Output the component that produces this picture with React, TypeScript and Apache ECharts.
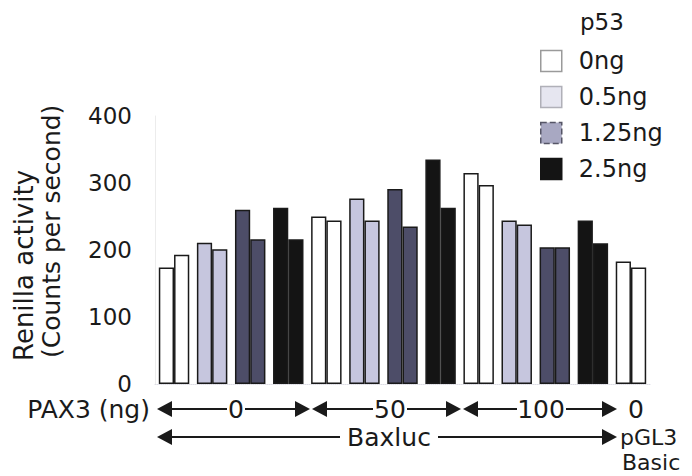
import React, { useEffect, useRef } from "react";
import * as echarts from "echarts";

// 13 bar pairs: PAX3 dose (0, 50, 100 ng) x p53 dose, then pGL3 Basic
const categories = [
  "Baxluc PAX3 0 / p53 0ng",
  "Baxluc PAX3 0 / p53 0.5ng",
  "Baxluc PAX3 0 / p53 1.25ng",
  "Baxluc PAX3 0 / p53 2.5ng",
  "Baxluc PAX3 50 / p53 0ng",
  "Baxluc PAX3 50 / p53 0.5ng",
  "Baxluc PAX3 50 / p53 1.25ng",
  "Baxluc PAX3 50 / p53 2.5ng",
  "Baxluc PAX3 100 / p53 0ng",
  "Baxluc PAX3 100 / p53 0.5ng",
  "Baxluc PAX3 100 / p53 1.25ng",
  "Baxluc PAX3 100 / p53 2.5ng",
  "pGL3 Basic PAX3 0 / p53 0ng",
];
const p53Doses = ["0ng", "0.5ng", "1.25ng", "2.5ng"];
const categoryDose = [0, 1, 2, 3, 0, 1, 2, 3, 0, 1, 2, 3, 0];
const replicate1 = [174, 211, 260, 263, 250, 277, 291, 335, 315, 244, 204, 244, 183];
const replicate2 = [193, 201, 216, 216, 244, 244, 235, 263, 297, 238, 204, 210, 174];
const yTicks = [0, 100, 200, 300, 400];

const doseFill = ["#ffffff", "#c6c6de", "#4d4d68", "#141414"];
const legendFill = ["#ffffff", "#e6e6f0", "#a8a8c2", "#141414"];
const legendBorder = ["#9a9a9a", "#b0b0b8", "#555566", "#141414"];

const FONT = "DejaVu Sans";
const INK = "#1a1a1a";

function txt(text: string, x: number, y: number, align: string, size = 25, rotation = 0) {
  return {
    type: "text",
    x,
    y,
    rotation,
    style: {
      text,
      fill: INK,
      font: `${size}px "${FONT}"`,
      textAlign: align,
      textVerticalAlign: "middle",
    },
  };
}
function seg(x1: number, x2: number, y: number) {
  return {
    type: "line",
    shape: { x1, y1: y, x2, y2: y },
    style: { stroke: INK, lineWidth: 2 },
  };
}
function head(tip: number, dir: number, y: number) {
  // dir = -1 points left, +1 points right
  const base = tip - dir * 15;
  return {
    type: "polygon",
    shape: { points: [[tip, y], [base, y - 8], [base, y + 8]] },
    style: { fill: INK },
  };
}

export default function App() {
  const ref = useRef<HTMLDivElement>(null);
  useEffect(() => {
    if (!ref.current) return;
    document.body.style.margin = "0";
    const chart = echarts.init(ref.current, undefined, { renderer: "svg" });

    const series: any[] = [];
    p53Doses.forEach((dose, d) => {
      [replicate1, replicate2].forEach((rep, r) => {
        series.push({
          type: "bar",
          name: dose,
          stack: r === 0 ? "rep1" : "rep2",
          barGap: "0%",
          barCategoryGap: "20%",
          data: categories.map((_, i) => (categoryDose[i] === d ? rep[i] : "-")),
          itemStyle: { color: doseFill[d], borderColor: INK, borderWidth: 1.5 },
          emphasis: { disabled: true },
        });
      });
    });

    const r1 = 409;
    const r2 = 437;
    const graphics: any[] = [
      txt("p53", 580, 22, "left", 23),
      txt("Renilla activity", 24, 361, "left", 26, Math.PI / 2),
      txt("(Counts per second)", 51, 358, "left", 25, Math.PI / 2),
      txt("PAX3 (ng)", 150, r1, "right"),
      head(157, -1, r1), seg(170, 227, r1), txt("0", 236, r1, "center"), seg(245, 298, r1), head(310, 1, r1),
      head(312, -1, r1), seg(325, 373, r1), txt("50", 390, r1, "center"), seg(407, 449, r1), head(461, 1, r1),
      head(463, -1, r1), seg(476, 517, r1), txt("100", 541, r1, "center"), seg(566, 604, r1), head(617, 1, r1),
      txt("0", 636, r1, "center"),
      head(157, -1, r2), seg(170, 340, r2), txt("Baxluc", 389, r2, "center"), seg(438, 604, r2), head(617, 1, r2),
      txt("pGL3", 620, r2, "left", 22),
      txt("Basic", 622, 462, "left", 22),
    ];

    chart.setOption({
      animation: false,
      backgroundColor: "#ffffff",
      grid: { left: 155, right: 42, top: 116, bottom: 92, containLabel: false },
      legend: {
        orient: "vertical",
        left: 540,
        top: 49,
        padding: 0,
        itemWidth: 21,
        itemHeight: 21,
        itemGap: 12,
        icon: "rect",
        selectedMode: false,
        textStyle: { fontFamily: FONT, fontSize: 24, color: INK, padding: [0, 0, 0, 12], lineHeight: 24 },
        data: p53Doses.map((name, d) => ({
          name,
          itemStyle: {
            color: legendFill[d],
            borderColor: legendBorder[d],
            borderWidth: 1.5,
            borderType: d === 2 ? "dashed" : "solid",
          },
        })),
      },
      xAxis: {
        type: "category",
        data: categories,
        axisLine: { show: true, lineStyle: { color: "#dcdce4", type: "dotted", width: 1 } },
        axisTick: { show: false },
        axisLabel: { show: false },
        splitLine: { show: false },
      },
      yAxis: {
        type: "value",
        min: 0,
        max: 400,
        interval: 100,
        axisLine: { show: true, lineStyle: { color: "#ececec", width: 1 } },
        axisTick: { show: false },
        splitLine: { show: false },
        axisLabel: {
          margin: 23,
          fontFamily: FONT,
          fontSize: 23,
          color: INK,
          formatter: (v: number) => (yTicks.includes(v) ? String(v) : ""),
        },
      },
      graphic: graphics,
      series,
    });
    return () => chart.dispose();
  }, []);
  return <div ref={ref} style={{ width: 692, height: 476 }} />;
}
